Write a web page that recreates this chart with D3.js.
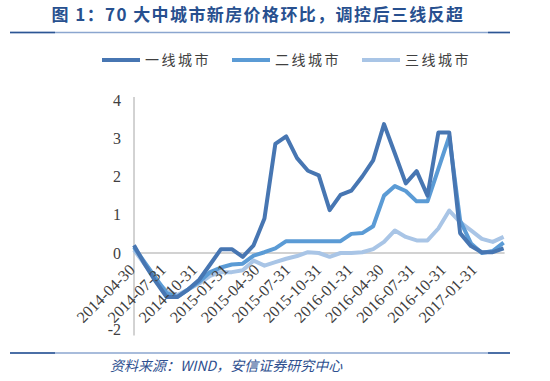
<!DOCTYPE html>
<html>
<head>
<meta charset="utf-8">
<script src="https://cdn.jsdelivr.net/npm/d3@7"></script>
<style>
  body { margin: 0; background: #fff; }
  svg { display: block; }
</style>
</head>
<body>
<div id="chart"></div>
<script>
// months on the category axis (monthly, 2014-04 .. 2017-02)
var months = [
  "2014-04", "2014-05", "2014-06", "2014-07", "2014-08", "2014-09", "2014-10",
  "2014-11", "2014-12", "2015-01", "2015-02", "2015-03", "2015-04", "2015-05",
  "2015-06", "2015-07", "2015-08", "2015-09", "2015-10", "2015-11", "2015-12",
  "2016-01", "2016-02", "2016-03", "2016-04", "2016-05", "2016-06", "2016-07",
  "2016-08", "2016-09", "2016-10", "2016-11", "2016-12", "2017-01", "2017-02"
];
var tickLabels = [
  "2014-04-30", "2014-07-31", "2014-10-31", "2015-01-31", "2015-04-30", "2015-07-31",
  "2015-10-31", "2016-01-31", "2016-04-30", "2016-07-31", "2016-10-31", "2017-01-31"
];
var seriesNames = ["一线城市", "二线城市", "三线城市"];

var tier1 = [0.2, -0.3, -0.75, -1.15, -1.15, -0.95, -0.7, -0.3, 0.1, 0.1, -0.1, 0.2,
  0.9, 2.85, 3.05, 2.48, 2.15, 2.03, 1.12, 1.52, 1.63, 2.0, 2.42, 3.37, 2.6, 1.82,
  2.14, 1.5, 3.15, 3.15, 0.52, 0.18, 0.02, 0.02, 0.12];
var tier2 = [0.15, -0.25, -0.65, -1.05, -1.15, -0.95, -0.75, -0.5, -0.38, -0.3, -0.28,
  -0.07, 0.02, 0.12, 0.31, 0.31, 0.31, 0.31, 0.31, 0.31, 0.5, 0.52, 0.7, 1.5, 1.75,
  1.62, 1.35, 1.35, 2.2, 3.05, 0.85, 0.25, 0.0, 0.05, 0.27];
var tier3 = [0.08, -0.3, -0.7, -1.0, -1.1, -0.95, -0.8, -0.6, -0.5, -0.5, -0.45, -0.2,
  -0.33, -0.24, -0.15, -0.08, 0.02, 0.0, -0.1, 0.0, 0.0, 0.02, 0.1, 0.29, 0.59, 0.42,
  0.33, 0.33, 0.64, 1.11, 0.81, 0.59, 0.37, 0.29, 0.42];
var yTicks = [-2, 0, 1, 2, 3, 4];

var colors = ["#4776B2", "#5B9BD5", "#A9C5E6"];

var W = 550, H = 381;
var svg = d3.select("#chart").append("svg")
    .attr("width", W)
    .attr("height", H);

// title + rules
svg.append("text")
    .attr("x", 258)
    .attr("y", 21)
    .attr("text-anchor", "middle")
    .attr("font-family", "Noto Sans CJK SC")
    .attr("font-weight", "bold")
    .attr("font-size", 17)
    .attr("letter-spacing", 1.4)
    .attr("fill", "#27508F")
    .text("图 1：70 大中城市新房价格环比，调控后三线反超");

function rule(y){
    svg.append("line").attr("x1", 10).attr("x2", 510).attr("y1", y).attr("y2", y)
        .attr("stroke", "#8BA6CF").attr("stroke-width", 1.5);
    svg.append("line").attr("x1", 10).attr("x2", 55).attr("y1", y).attr("y2", y)
        .attr("stroke", "#2C5694").attr("stroke-width", 1.5);
    svg.append("line").attr("x1", 488).attr("x2", 510).attr("y1", y).attr("y2", y)
        .attr("stroke", "#2C5694").attr("stroke-width", 1.5);
}
rule(32.5);
rule(353);

// scales
var x = d3.scalePoint().domain(months).range([134, 503.6]);
var y = d3.scaleLinear().domain([-2, 4]).range([329.5, 100]);
var labelX = d3.scalePoint().domain(tickLabels).range([128, 470]);

// y axis line
svg.append("line")
    .attr("x1", 134).attr("x2", 134)
    .attr("y1", y(4) - 3).attr("y2", y(-2) + 6)
    .attr("stroke", "#A6A6A6").attr("stroke-width", 1);
// zero line
svg.append("line")
    .attr("x1", 134).attr("x2", x(months[months.length - 1]) + 1)
    .attr("y1", y(0)).attr("y2", y(0))
    .attr("stroke", "#A6A6A6").attr("stroke-width", 1.2);

svg.append("g").selectAll("text")
    .data(yTicks)
    .enter().append("text")
    .attr("x", 121)
    .attr("y", function(d){ return y(d); })
    .attr("dy", "0.35em")
    .attr("text-anchor", "end")
    .attr("font-family", "Liberation Serif")
    .attr("font-size", 16)
    .attr("fill", "#404040")
    .text(function(d){ return d; });

// lines
var line = d3.line()
    .x(function(d, i){ return x(months[i]); })
    .y(function(d){ return y(d); });

var allSeries = [tier1, tier2, tier3];
svg.append("g").selectAll("path")
    .data(allSeries.slice().reverse())
    .enter().append("path")
    .attr("d", line)
    .attr("fill", "none")
    .attr("stroke", function(d, i){ return colors[2 - i]; })
    .attr("stroke-width", 4)
    .attr("stroke-linejoin", "round");

// x tick labels, rotated
svg.append("g").selectAll("text")
    .data(tickLabels)
    .enter().append("text")
    .attr("transform", function(d){ return "translate(" + labelX(d) + ",263) rotate(-45)"; })
    .attr("text-anchor", "end")
    .attr("dy", "0.7em")
    .attr("font-family", "Liberation Serif")
    .attr("font-size", 16)
    .attr("fill", "#404040")
    .text(function(d){ return d; });

// legend
var legendX = [102, 232, 362];
var lg = svg.append("g").selectAll("g")
    .data(seriesNames)
    .enter().append("g")
    .attr("transform", function(d, i){ return "translate(" + legendX[i] + ",60)"; });
lg.append("line")
    .attr("x1", 0).attr("x2", 38)
    .attr("stroke", function(d, i){ return colors[i]; })
    .attr("stroke-width", 4);
lg.append("text")
    .attr("x", 43)
    .attr("dy", "0.36em")
    .attr("font-family", "Noto Sans CJK SC")
    .attr("font-size", 14)
    .attr("letter-spacing", 2.5)
    .attr("fill", "#404040")
    .text(function(d){ return d; });

// source
svg.append("text")
    .attr("x", 110)
    .attr("y", 371)
    .attr("font-family", "Noto Sans CJK SC")
    .attr("font-style", "italic")
    .attr("font-size", 14)
    .attr("fill", "#2E4F8F")
    .text("资料来源：WIND，安信证券研究中心");
</script>
</body>
</html>
